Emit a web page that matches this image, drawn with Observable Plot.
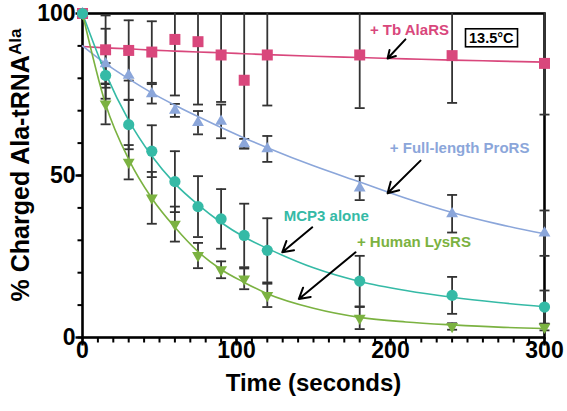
<!DOCTYPE html>
<html><head><meta charset="utf-8">
<script src="https://cdn.jsdelivr.net/npm/d3@7"></script>
<script src="https://cdn.jsdelivr.net/npm/@observablehq/plot@0.6"></script>
<style>
body{margin:0;background:#fff;}
#chart{width:567px;height:411px;}
#chart svg{font-family:"Liberation Sans",Arial,Helvetica,sans-serif;}
</style></head><body><div id="chart"></div>
<script>
// ---- data ----
const times = [0, 15, 30, 45, 60, 75, 90, 105, 120, 180, 240, 300];

const tbAlaRS     = [100, 88.8, 88.6, 88.1, 92.0, 91.3, 87.2, 79.4, 87.2, 87.2, 87.0, 84.6];
const tbAlaRSErr  = [0, 10.6, 9.3, 9.5, 17.3, 19.4, 14.5, 21.0, 15.6, 16.4, 14.6, 15.8];
const proRS       = [100, 84.5, 80.9, 75.2, 70.1, 66.3, 66.7, 59.8, 58.2, 46.1, 38.2, 32.2];
const proRSErr    = [0, 10.8, 7.5, 3.0, 2.0, 3.6, 5.2, 1.5, 4.0, 3.7, 5.8, 7.0];
const mcp3        = [100, 80.9, 65.7, 57.5, 48.1, 40.4, 36.6, 31.5, 26.9, 17.4, 13.0, 9.4];
const mcp3Err     = [0, 3.8, 7.6, 8.0, 9.4, 9.4, 9.2, 9.8, 9.9, 7.8, 5.7, 5.1];
const lysRS       = [100, 72.1, 54.1, 43.1, 35.0, 25.3, 20.9, 18.1, 13.0, 6.0, 3.4, 3.2];
const lysRSErr    = [0, 6.3, 5.3, 8.0, 5.4, 3.9, 2.6, 3.2, 3.6, 3.4, 1.0, 1.0];

// fitted curves
const fitTimes  = [0, 15, 30, 45, 60, 75, 90, 105, 120, 150, 180, 210, 240, 270, 300];
const fitTb     = [89.8, 89.4, 89.1, 88.7, 88.4, 88.1, 87.9, 87.6, 87.3, 86.8, 86.4, 86.0, 85.6, 85.3, 85.0];
const fitProRS  = [90, 84.5, 79.8, 75.5, 71.7, 68.2, 64.8, 61.6, 58.6, 53.0, 48.0, 43.0, 38.6, 35.0, 32.0];
const fitMCP3   = [100, 81.5, 67, 56, 47.5, 41, 35.5, 31, 27.5, 21.5, 17.3, 14.5, 12.4, 10.8, 9.5];
const fitLysRS  = [100, 72, 55, 43, 34, 26.5, 21, 17, 13.5, 9, 6.2, 4.8, 3.9, 3.2, 2.8];

const xMajorTicks = [0, 100, 200, 300];
const xMinorTicks = [0,10,20,30,40,50,60,70,80,90,100,110,120,130,140,150,160,170,180,190,200,210,220,230,240,250,260,270,280,290,300];
const yMajorTicks = [0, 50, 100];
const yMinorTicks = [0,10,20,30,40,50,60,70,80,90,100];

const seriesNames = ["+ Tb AlaRS", "+ Full-length ProRS", "MCP3 alone", "+ Human LysRS"];
const temperatureLabel = "13.5°C";
const xTitle = "Time (seconds)";
const yTitleMain = "% Charged Ala-tRNA";
const yTitleSup = "Ala";

// annotation placement (data units)
const labelX = [212.3, 244.9, 158.3, 215.2];
const labelY = [94.7, 58.3, 37.5, 29.4];
const arrowFrom = [[209.7, 92.0], [219.5, 54.6], [149.2, 34.0], [177.3, 26.3]];
const arrowTo   = [[198.1, 86.1], [198.1, 44.5], [129.7, 26.3], [140.5, 11.9]];

// ---- styling ----
const colors = ["#d9477c", "#8ba6da", "#35baa6", "#7bb241"];
const specs = [
  {values: tbAlaRS, err: tbAlaRSErr, fit: fitTb, symbol: "square", r: 6.2, rotate: 0},
  {values: proRS, err: proRSErr, fit: fitProRS, symbol: "triangle", r: 4.4, rotate: 0},
  {values: mcp3, err: mcp3Err, fit: fitMCP3, symbol: "circle", r: 5.6, rotate: 0},
  {values: lysRS, err: lysRSErr, fit: fitLysRS, symbol: "triangle", r: 4.4, rotate: 180}
];

const rows = [], fitRows = [];
specs.forEach((s, i) => {
  times.forEach((t, j) => rows.push({series: i, t, v: s.values[j], e: s.err[j]}));
  fitTimes.forEach((t, j) => fitRows.push({series: i, t, v: s.fit[j]}));
});
const barRows = rows.filter(d => d.e > 0);
const capRows = [];
barRows.forEach(d => {
  capRows.push({t: d.t, y: d.v - d.e});
  if (d.v + d.e <= 100) capRows.push({t: d.t, y: d.v + d.e});
});

const capSymbol = {draw(ctx) { ctx.moveTo(-5, 0); ctx.lineTo(5, 0); }};
const xTickMinor = {draw(ctx) { ctx.moveTo(0, 0); ctx.lineTo(0, 5); }};
const xTickMajor = {draw(ctx) { ctx.moveTo(0, 0); ctx.lineTo(0, 8); }};
const yTickMinor = {draw(ctx) { ctx.moveTo(0, 0); ctx.lineTo(-5, 0); }};
const yTickMajor = {draw(ctx) { ctx.moveTo(0, 0); ctx.lineTo(-7, 0); }};

const dotOrder = [1, 3, 0, 2];
const labelRows = seriesNames.map((name, i) => ({name, x: labelX[i], y: labelY[i], i}));
const arrowRows = arrowFrom.map((a, i) => ({x1: a[0], y1: a[1], x2: arrowTo[i][0], y2: arrowTo[i][1]}));

const chart = Plot.plot({
  width: 567,
  height: 411,
  marginLeft: 82,
  marginRight: 23,
  marginTop: 13,
  marginBottom: 74,
  x: {domain: [0, 300], axis: null},
  y: {domain: [0, 100], axis: null},
  style: {fontFamily: "'Liberation Sans', Arial, Helvetica, sans-serif", background: "white", overflow: "visible"},
  marks: [
    Plot.frame({stroke: "black", strokeWidth: 2.6}),
    // ticks
    Plot.dot(xMinorTicks, {x: d => d, frameAnchor: "bottom", symbol: xTickMinor, stroke: "black", fill: "none", strokeWidth: 2}),
    Plot.dot(xMajorTicks, {x: d => d, frameAnchor: "bottom", symbol: xTickMajor, stroke: "black", fill: "none", strokeWidth: 2.4}),
    Plot.dot(yMinorTicks, {y: d => d, frameAnchor: "left", symbol: yTickMinor, stroke: "black", fill: "none", strokeWidth: 2}),
    Plot.dot(yMajorTicks, {y: d => d, frameAnchor: "left", symbol: yTickMajor, stroke: "black", fill: "none", strokeWidth: 2.4}),
    Plot.text(xMajorTicks, {x: d => d, frameAnchor: "bottom", dy: 20, text: d => String(d), fontSize: 23, fontWeight: "bold", fill: "black"}),
    Plot.text(yMajorTicks, {y: d => d, frameAnchor: "left", dx: -7, textAnchor: "end", text: d => String(d), fontSize: 23, fontWeight: "bold", fill: "black"}),
    Plot.text([xTitle], {frameAnchor: "bottom", dy: 53, text: d => d, fontSize: 24, fontWeight: "bold", fill: "black"}),
    // error bars
    Plot.ruleX(barRows, {x: "t", y1: d => d.v - d.e, y2: d => Math.min(100, d.v + d.e), stroke: "#333", strokeWidth: 1.8}),
    Plot.dot(capRows, {x: "t", y: "y", symbol: capSymbol, stroke: "#333", fill: "none", strokeWidth: 1.8}),
    // fitted curves
    ...specs.map((s, i) => Plot.line(fitRows.filter(d => d.series === i), {x: "t", y: "v", stroke: colors[i], strokeWidth: 1.6, curve: "monotone-x"})),
    // markers
    ...dotOrder.map(i => Plot.dot(rows.filter(d => d.series === i), {x: "t", y: "v", fill: colors[i], stroke: "none", symbol: specs[i].symbol, r: specs[i].r, rotate: specs[i].rotate})),
    // annotations
    ...labelRows.map(d => Plot.text([d], {x: "x", y: "y", text: "name", fill: colors[d.i], fontSize: 15, fontWeight: "bold"})),
    Plot.arrow(arrowRows, {x1: "x1", y1: "y1", x2: "x2", y2: "y2", stroke: "black", strokeWidth: 2, headLength: 9}),
    Plot.text([temperatureLabel], {frameAnchor: "top-right", dx: -31, dy: 19, text: d => d, fontSize: 14.5, fontWeight: "bold", fill: "black"})
  ]
});

document.getElementById("chart").appendChild(chart);

const svgEl = chart.tagName.toLowerCase() === "svg" ? chart : chart.querySelector("svg");
const svg = d3.select(svgEl);
// box around temperature label
const svgRect = svgEl.getBoundingClientRect();
svg.selectAll("text").each(function() {
  if (this.textContent === temperatureLabel) {
    const b = this.getBoundingClientRect();
    svg.append("rect")
      .attr("x", b.left - svgRect.left - 3.5).attr("y", b.top - svgRect.top - 1)
      .attr("width", b.width + 7).attr("height", b.height + 2)
      .attr("fill", "none").attr("stroke", "black").attr("stroke-width", 1.6);
  }
});
// y-axis title with superscript
const yt = svg.append("text")
  .attr("transform", "translate(29,165) rotate(-90)")
  .attr("text-anchor", "middle")
  .attr("font-size", 25)
  .attr("font-weight", "bold")
  .attr("fill", "black");
yt.append("tspan").text(yTitleMain);
yt.append("tspan").attr("font-size", 17).attr("dy", -8).text(yTitleSup);
</script>
</body></html>
